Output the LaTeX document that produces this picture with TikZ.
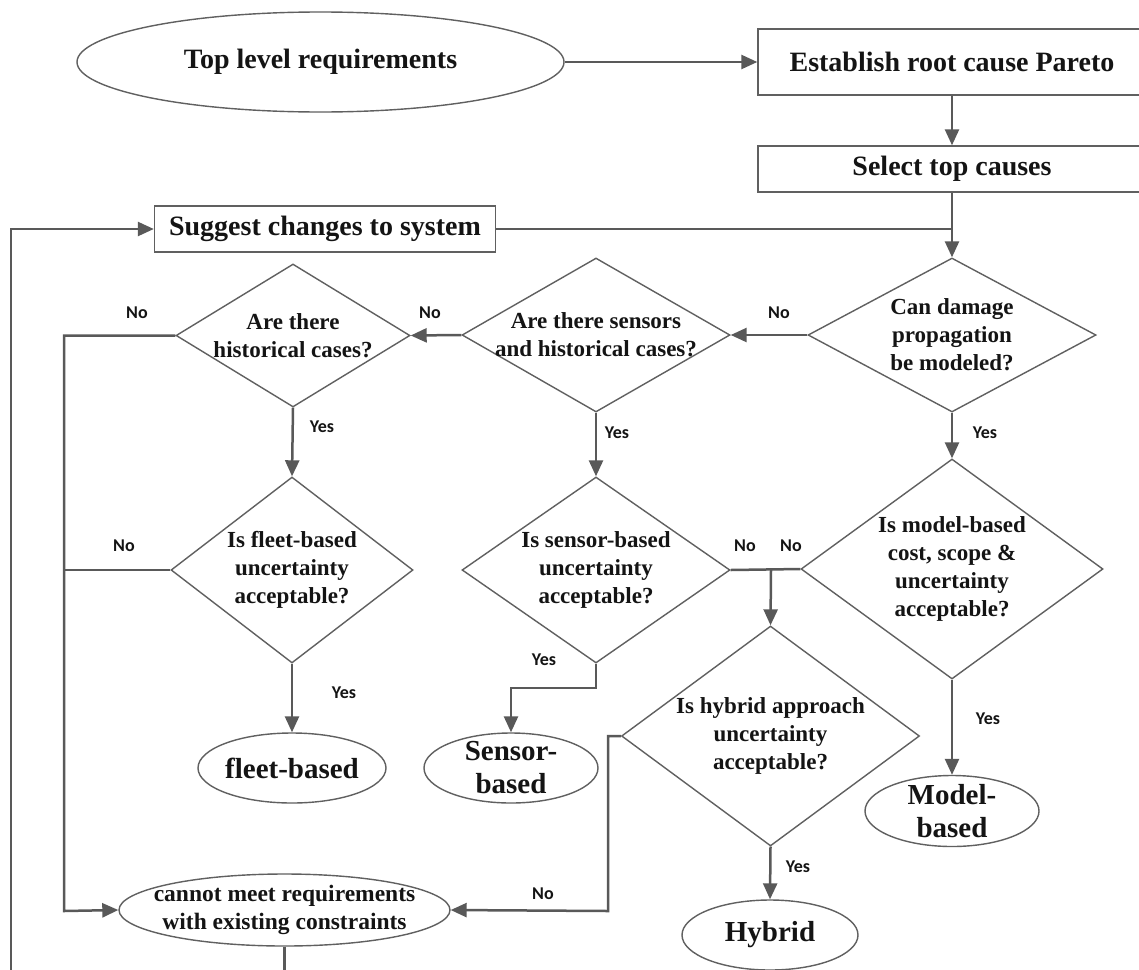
\documentclass[tikz,border=0pt]{standalone}
\usepackage{fontspec}
\setmainfont{Liberation Serif}
\newfontfamily\labelfont{Carlito}
\usetikzlibrary{shapes.geometric,arrows.meta}
\definecolor{shapegray}{HTML}{606060}
\definecolor{linegray}{HTML}{595959}
\definecolor{inkblack}{HTML}{141414}

\begin{document}
\begin{tikzpicture}[x=1pt,y=-1pt,
  outline/.style={draw=shapegray, line width=1.4pt, fill=white, text=inkblack},
  procbox/.style={outline, rectangle, inner sep=0pt,
    font=\fontsize{28}{33}\selectfont\bfseries},
  term/.style={outline, ellipse, inner sep=-20pt, align=center,
    font=\fontsize{29}{33}\selectfont\bfseries},
  decision/.style={outline, diamond, inner sep=-40pt, align=center,
    font=\fontsize{23}{28}\selectfont\bfseries},
  flow/.style={draw=linegray, line width=2.5pt, -{Triangle[length=16pt,width=14pt]}},
  plain/.style={draw=linegray, line width=2.5pt},
  ans/.style={font=\labelfont\fontsize{18}{18}\selectfont\bfseries, text=inkblack, inner sep=0pt}
]
\path[use as bounding box, clip] (0,0) rectangle (1139,969);
\fill[white] (0,0) rectangle (1139,969);

% start and preparation steps
\node[term, minimum width=487pt, minimum height=100pt, font=\fontsize{28}{33}\selectfont\bfseries]
  (top) at (320.5,62) {Top level requirements};
\node[procbox, minimum width=388pt, minimum height=66pt] (pareto) at (952,62) {Establish root cause Pareto};
\node[procbox, minimum width=388pt, minimum height=46pt] (select) at (952,169) {Select top causes};
\node[procbox, minimum width=341pt, minimum height=46pt] (suggest) at (325,229) {Suggest changes to system};

% decisions
\node[decision, minimum width=288pt, minimum height=154pt] (model) at (952,335)
  {Can damage\\propagation\\be modeled?};
\node[decision, minimum width=268pt, minimum height=154pt] (sensors) at (596,335)
  {Are there sensors\\and historical cases?};
\node[decision, minimum width=234pt, minimum height=143pt] (hist) at (293,335.5)
  {Are there\\historical cases?};
\node[decision, minimum width=242pt, minimum height=186pt] (fleetok) at (292,570)
  {Is fleet-based\\uncertainty\\acceptable?};
\node[decision, minimum width=268pt, minimum height=186pt] (sensorok) at (596,570)
  {Is sensor-based\\uncertainty\\acceptable?};
\node[decision, minimum width=302pt, minimum height=220pt] (modelok) at (952,569)
  {Is model-based\\cost, scope \&\\uncertainty\\acceptable?};
\node[decision, minimum width=298pt, minimum height=220pt] (hybridok) at (770.5,736)
  {Is hybrid approach\\uncertainty\\acceptable?};

% outcomes
\node[term, minimum width=188pt, minimum height=70pt] (fleet) at (292,768) {fleet-based};
\node[term, minimum width=174pt, minimum height=70pt] (sensor) at (511,768) {Sensor-\\based};
\node[term, minimum width=174pt, minimum height=71pt] (modelb) at (952,811) {Model-\\based};
\node[term, minimum width=176pt, minimum height=70pt] (hybrid) at (770,935) {Hybrid};
\node[term, minimum width=331pt, minimum height=72pt, font=\fontsize{23.5}{28}\selectfont\bfseries]
  (cannot) at (284.5,910) {cannot meet requirements\\with existing constraints};

% routing points
\coordinate (joinTop) at (select.south |- suggest.east);
\coordinate (leftRail) at (64,335.5);
\coordinate (leftRailB) at (64,911);
\coordinate (sensorStep) at (596,688);
\coordinate (nsJoin) at (771,570);
\coordinate (hybRail) at (608,736);
\coordinate (hybRailB) at (608,911);
\coordinate (loopB) at (284.5,1000);
\coordinate (loopL) at (11,1000);
\coordinate (loopT) at (11,229);

% connectors
\draw[flow] (top.east) -- (pareto.west);
\draw[flow] (pareto.south) -- (select.north);
\draw[flow] (select.south) -- (model.north);
\draw[plain] (suggest.east) -- (joinTop);
\draw[flow] (cannot.south) -- (loopB) -- (loopL) -- (loopT) -- (suggest.west);

\draw[flow] (model.west) -- (sensors.east);
\draw[flow] (sensors.west) -- (hist.east);
\draw[flow] (hist.west) -- (leftRail) -- (leftRailB) -- (cannot.west);
\draw[plain] (fleetok.west) -- (fleetok.west -| leftRail);
\draw[flow] (hist.south) -- (fleetok.north);
\draw[flow] (fleetok.south) -- (fleet.north);
\draw[flow] (sensors.south) -- (sensorok.north);
\draw[flow] (sensorok.south) -- (sensorStep) -- (sensorStep -| sensor.north) -- (sensor.north);
\draw[plain] (sensorok.east) -- (modelok.west);
\draw[flow] (nsJoin) -- (hybridok.north);
\draw[flow] (model.south) -- (modelok.north);
\draw[flow] (modelok.south) -- (modelb.north);
\draw[flow] (hybridok.west) -- (hybRail) -- (hybRailB) -- (cannot.east);
\draw[flow] (hybridok.south) -- (hybrid.north);

% answer labels
\node[ans] (n1) at (779,313) {No};
\node[ans] (n2) at (430,313) {No};
\node[ans] (n3) at (137,313) {No};
\node[ans] (n4) at (124,546) {No};
\node[ans] (n5) at (745,546) {No};
\node[ans] (n6) at (791,546) {No};
\node[ans] (n7) at (543,894) {No};
\node[ans] (y1) at (985,433) {Yes};
\node[ans] (y2) at (617,433) {Yes};
\node[ans] (y3) at (322,427) {Yes};
\node[ans] (y4) at (344,693) {Yes};
\node[ans] (y5) at (544,660) {Yes};
\node[ans] (y6) at (988,719) {Yes};
\node[ans] (y7) at (798,867) {Yes};
\end{tikzpicture}
\end{document}
